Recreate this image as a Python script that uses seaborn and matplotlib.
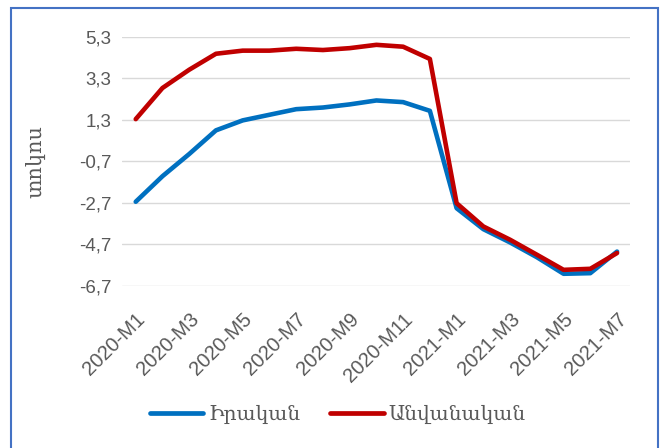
import matplotlib
matplotlib.use("Agg")
import matplotlib.pyplot as plt
import seaborn as sns
import pandas as pd
from matplotlib.patches import Rectangle
from matplotlib.lines import Line2D

months = ["2020-M1", "2020-M2", "2020-M3", "2020-M4", "2020-M5", "2020-M6",
          "2020-M7", "2020-M8", "2020-M9", "2020-M10", "2020-M11", "2020-M12",
          "2021-M1", "2021-M2", "2021-M3", "2021-M4", "2021-M5", "2021-M6", "2021-M7"]
real = [-2.65, -1.42, -0.35, 0.79, 1.27, 1.54, 1.81, 1.89, 2.04, 2.23, 2.15, 1.73,
        -2.96, -3.97, -4.61, -5.32, -6.12, -6.09, -5.05]
nominal = [1.33, 2.83, 3.71, 4.48, 4.63, 4.63, 4.72, 4.66, 4.75, 4.91, 4.82, 4.23,
           -2.72, -3.84, -4.48, -5.20, -5.93, -5.88, -5.12]
series_names = ["Իրական", "Անվանական"]
yticks = [-6.7, -4.7, -2.7, -0.7, 1.3, 3.3, 5.3]
ylabel = "տոկոս"

sns.set_theme(style="white")
plt.rcParams['font.family'] = ['Liberation Sans', 'DejaVu Sans']

df = pd.DataFrame({
    "idx": list(range(len(months))) * 2,
    "value": real + nominal,
    "series": [series_names[0]] * len(months) + [series_names[1]] * len(months),
})

fig = plt.figure(figsize=(6.65, 4.48), dpi=100)
ax = fig.add_axes([0.184, 0.362, 0.764, 0.556])

for y in yticks:
    ax.axhline(y, color="#D9D9D9", lw=1.0, zorder=0)

sns.lineplot(data=df, x="idx", y="value", hue="series",
             palette={series_names[0]: "#0070C0", series_names[1]: "#C00000"},
             linewidth=3.3, ax=ax, legend=False, zorder=3)
for l in ax.lines:
    l.set_solid_capstyle("round")
    l.set_solid_joinstyle("round")

ax.set_xlim(-0.5, len(months) - 0.5)
ax.set_ylim(-6.7, 5.3)
ax.set_yticks(yticks)
ax.set_yticklabels([f"{v:.1f}".replace(".", ",") for v in yticks],
                   fontsize=13.5, color="#595959")
tick_idx = list(range(0, len(months), 2))
ax.set_xticks(tick_idx)
ax.set_xticklabels([months[i] for i in tick_idx], rotation=45, ha="right",
                   rotation_mode="anchor", fontsize=14.5, color="#595959")
ax.tick_params(axis="y", length=0, pad=8)
ax.tick_params(axis="x", length=0, pad=17)
for s in ax.spines.values():
    s.set_visible(False)
ax.set_xlabel("")
ax.set_ylabel(ylabel, fontsize=15, color="#595959", labelpad=24,
              family=['DejaVu Serif'])

handles = [Line2D([0], [0], color="#0070C0", lw=3.4, solid_capstyle="round"),
           Line2D([0], [0], color="#C00000", lw=3.4, solid_capstyle="round")]
leg = fig.legend(handles, series_names, loc="center", bbox_to_anchor=(0.508, 0.075),
                 ncol=2, frameon=False, handlelength=2.65,
                 columnspacing=1.5, handletextpad=0.25,
                 prop={'family': ['DejaVu Serif'], 'size': 14.5})
for t in leg.get_texts():
    t.set_color("#595959")

fig.patches.append(Rectangle((0.017, -0.05), 0.972, 1.032, transform=fig.transFigure,
                             fill=False, edgecolor="#4472C4", lw=1.5))

fig.savefig("out.png", dpi=100)
